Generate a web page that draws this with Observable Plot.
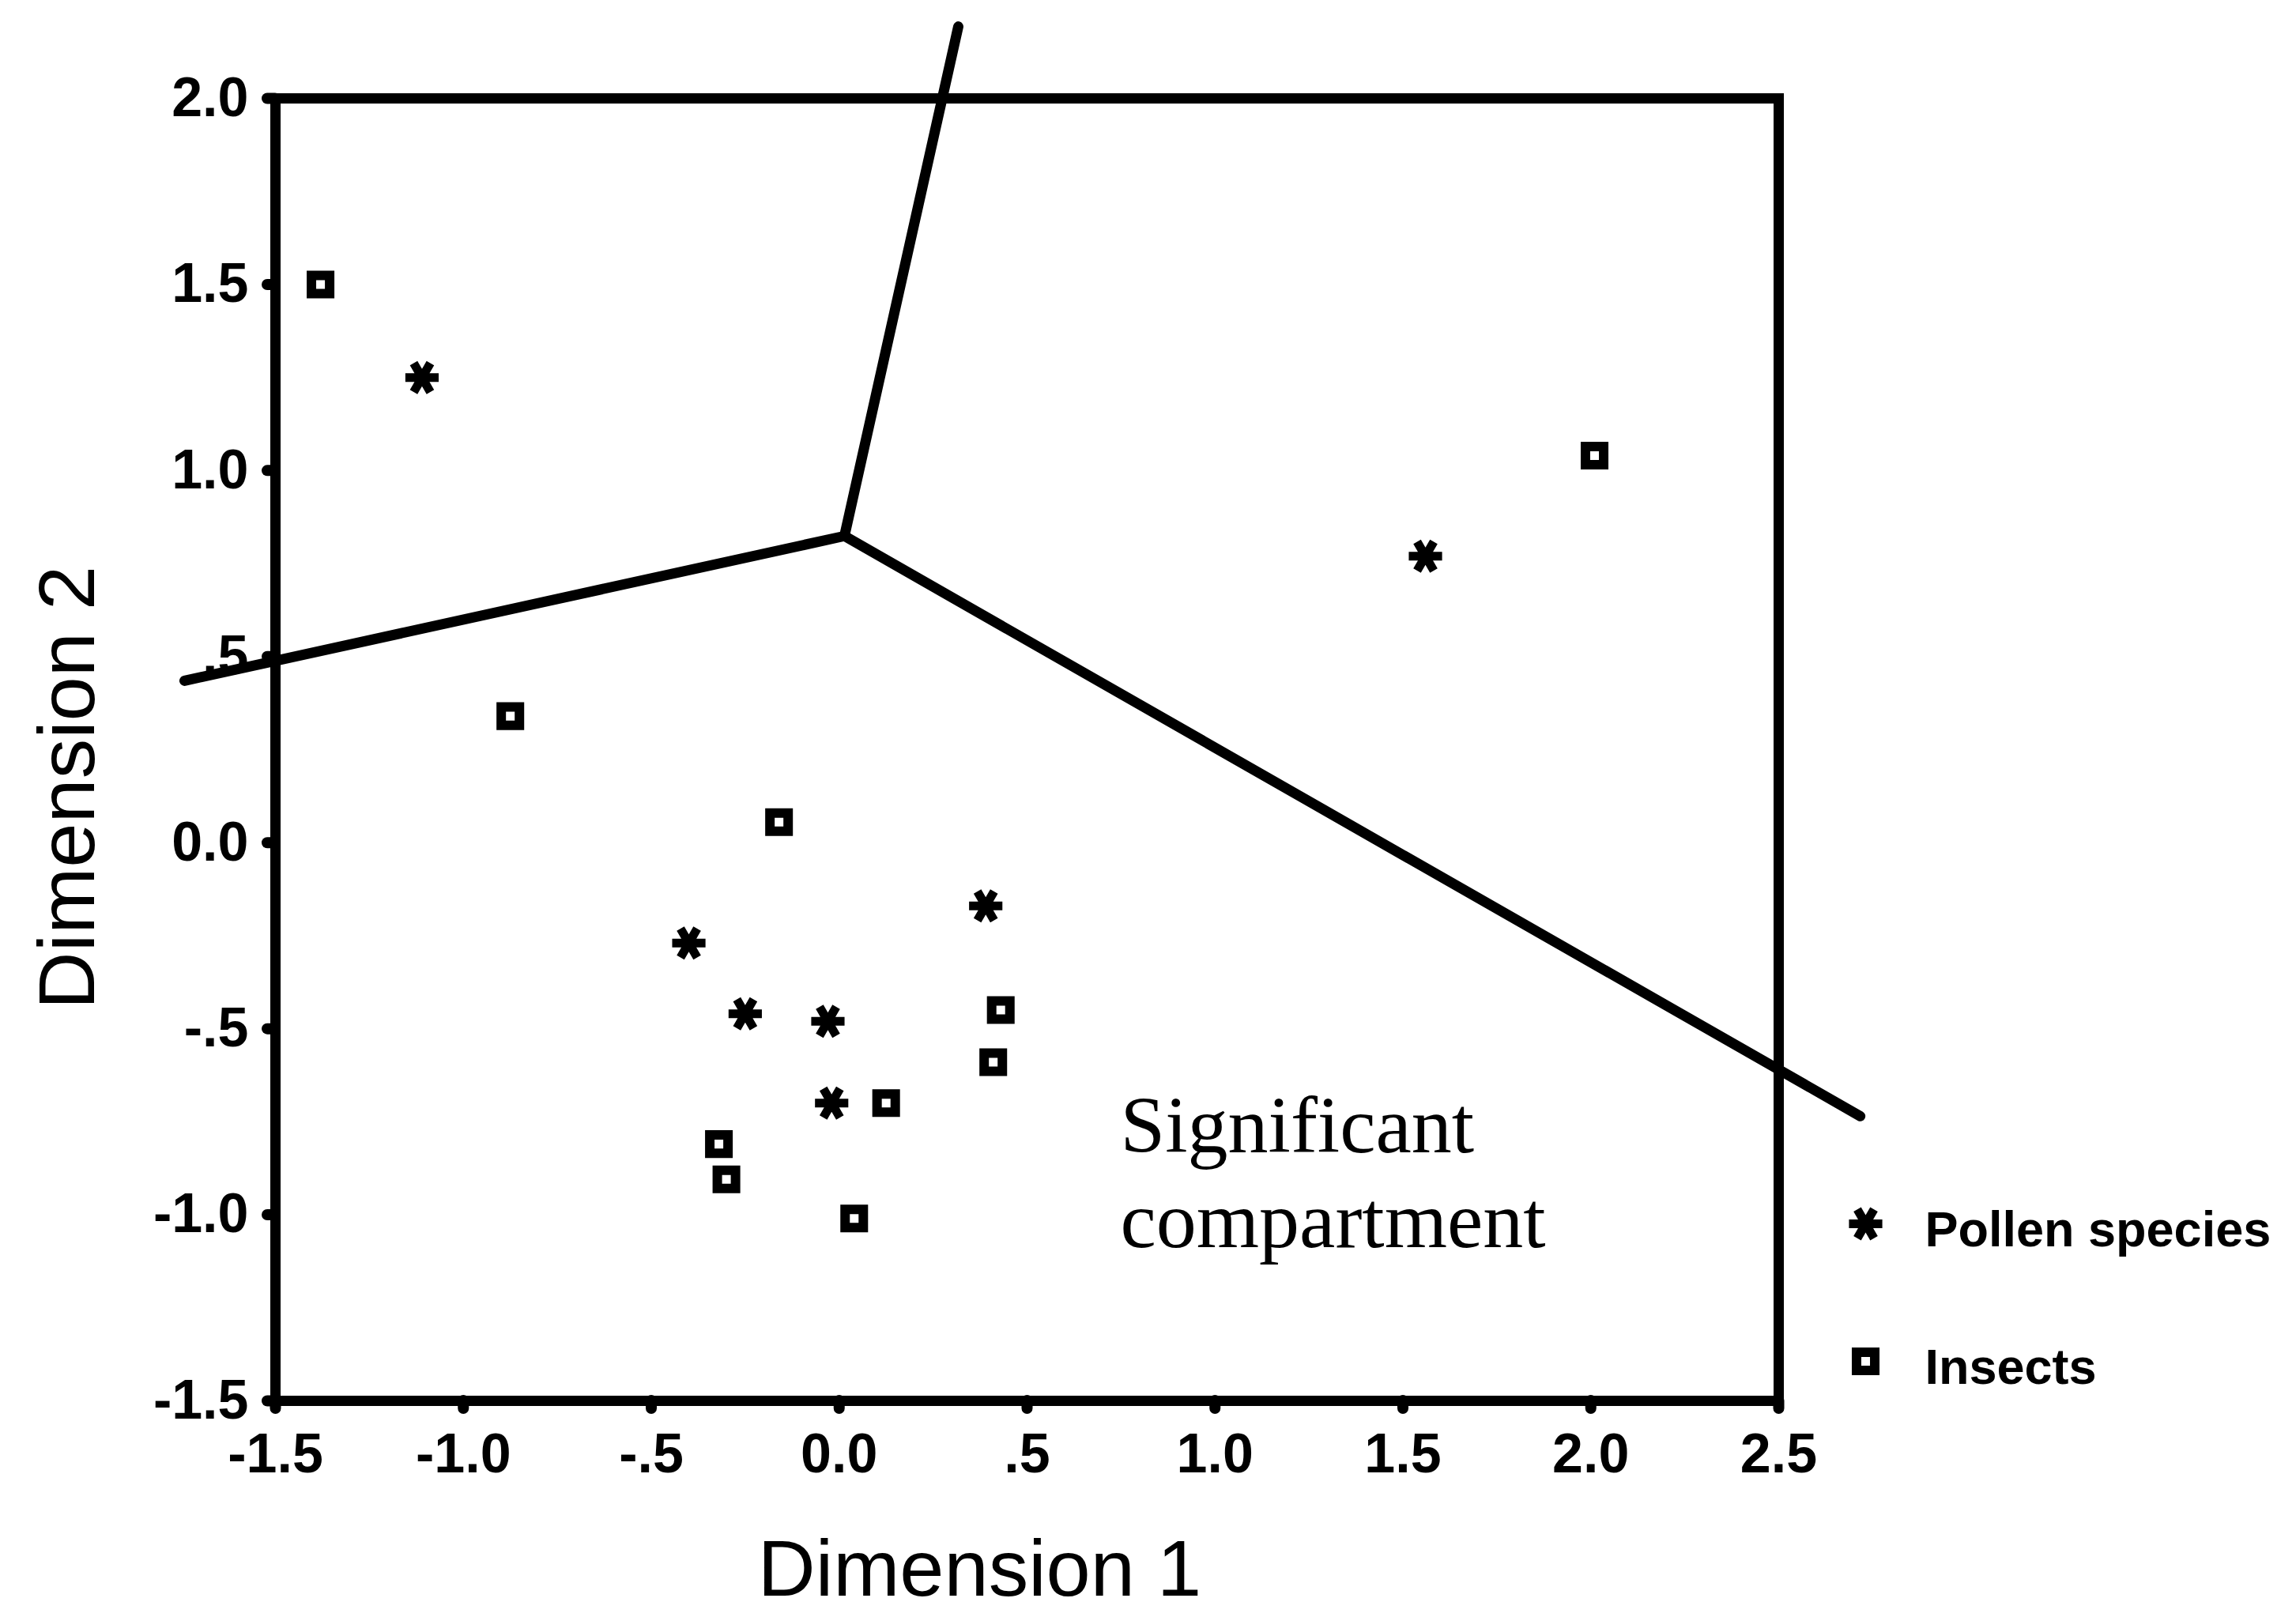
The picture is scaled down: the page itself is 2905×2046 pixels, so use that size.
<!DOCTYPE html>
<html>
<head>
<meta charset="utf-8">
<script src="https://cdn.jsdelivr.net/npm/d3@7"></script>
<script src="https://cdn.jsdelivr.net/npm/@observablehq/plot@0.6"></script>
<style>
  html, body { margin: 0; padding: 0; background: #fff; }
  #chart svg { display: block; }
  [aria-label$="tick label"] text, g[aria-label$="tick label"] { font-weight: bold; }
</style>
</head>
<body>
<div id="chart"></div>
<script>
// ---- Data ----
const xTicks = [-1.5, -1, -0.5, 0, 0.5, 1, 1.5, 2, 2.5];
const xTickLabels = ["-1.5", "-1.0", "-.5", "0.0", ".5", "1.0", "1.5", "2.0", "2.5"];
const yTicks = [-1.5, -1, -0.5, 0, 0.5, 1, 1.5, 2];
const yTickLabels = ["-1.5", "-1.0", "-.5", "0.0", ".5", "1.0", "1.5", "2.0"];

const seriesNames = ["Pollen species", "Insects"];

// Insects (hollow squares)
const insectX = [-1.38, -0.875, -0.16, 0.43, 0.41, 0.125, -0.32, -0.30, 0.04, 2.01];
const insectY = [1.50, 0.34, 0.055, -0.45, -0.59, -0.70, -0.81, -0.905, -1.01, 1.04];

// Pollen species (asterisks)
const pollenX = [-1.11, -0.40, -0.25, -0.03, -0.02, 0.39, 1.56];
const pollenY = [1.25, -0.27, -0.46, -0.48, -0.70, -0.17, 0.77];

// Compartment boundaries: three segments from a common vertex
const boundaryVertexX = 0.014;
const boundaryVertexY = 0.824;
const boundaryEndX = [-1.742, 0.317, 2.717];
const boundaryEndY = [0.435, 2.193, -0.735];

const xTitle = "Dimension 1";
const yTitle = "Dimension 2";
const annotationText = "Significant\ncompartment";

// ---- Build tables ----
const insects = insectX.map((x, i) => ({x, y: insectY[i]}));
const pollen = pollenX.map((x, i) => ({x, y: pollenY[i]}));
const boundary = boundaryEndX.map((x, i) => ({x1: boundaryVertexX, y1: boundaryVertexY, x2: x, y2: boundaryEndY[i]}));

const sans = "'Liberation Sans', Arial, Helvetica, sans-serif";
const serif = "'Liberation Serif', 'Times New Roman', Times, serif";

const squareStyle = {symbol: "square", r: 13, stroke: "black", strokeWidth: 12, fill: "none"};
const starStyle = {symbol: "asterisk", r: 20, rotate: 90, stroke: "black", strokeWidth: 11, fill: "none"};

const legendLayout = [
  {dotDy: -224, textDy: -216, style: starStyle},
  {dotDy: -50, textDy: -42, style: squareStyle}
];

const chart = Plot.plot({
  width: 2905,
  height: 2046,
  marginLeft: 348,
  marginRight: 655,
  marginTop: 124,
  marginBottom: 274,
  x: {domain: [-1.5, 2.5], label: null},
  y: {domain: [-1.5, 2.0], label: null},
  style: {background: "white", color: "black", fontFamily: sans},
  marks: [
    Plot.frame({stroke: "black", strokeWidth: 13}),
    Plot.link(boundary, {x1: "x1", y1: "y1", x2: "x2", y2: "y2", stroke: "black", strokeWidth: 13, strokeLinecap: "round", clip: false}),
    Plot.dot(insects, {x: "x", y: "y", ...squareStyle}),
    Plot.dot(pollen, {x: "x", y: "y", ...starStyle}),
    Plot.axisX({
      ticks: xTicks,
      tickFormat: d => xTickLabels[xTicks.indexOf(d)],
      tickSize: 10, tickPadding: 31,
      fontSize: 70, fontWeight: "bold",
      stroke: "black", strokeWidth: 14, strokeLinecap: "round",
      label: null
    }),
    Plot.axisY({
      ticks: yTicks,
      tickFormat: d => yTickLabels[yTicks.indexOf(d)],
      tickSize: 10, tickPadding: 24,
      fontSize: 70, fontWeight: "bold",
      stroke: "black", strokeWidth: 14, strokeLinecap: "round",
      label: null
    }),
    Plot.text([xTitle], {text: d => d, frameAnchor: "bottom", dx: -60, dy: 246, textAnchor: "middle", lineAnchor: "bottom", fontSize: 101, fill: "black"}),
    Plot.text([yTitle], {text: d => d, frameAnchor: "left", dx: -230, dy: 48, rotate: -90, textAnchor: "middle", lineAnchor: "bottom", fontSize: 101, fill: "black"}),
    Plot.text([annotationText], {text: d => d, frameAnchor: "top-left", dx: 1069, dy: 1249, textAnchor: "start", lineAnchor: "top", lineHeight: 1.17, fontSize: 102, fontFamily: serif, fill: "black"}),
    ...seriesNames.flatMap((name, i) => [
      Plot.dot([name], {frameAnchor: "bottom-right", dx: 110, dy: legendLayout[i].dotDy, ...legendLayout[i].style}),
      Plot.text([name], {text: d => d, frameAnchor: "bottom-right", dx: 185, dy: legendLayout[i].textDy, textAnchor: "start", lineAnchor: "middle", fontSize: 63, fontWeight: "bold", fill: "black"})
    ])
  ]
});

document.getElementById("chart").appendChild(chart);
</script>
</body>
</html>
